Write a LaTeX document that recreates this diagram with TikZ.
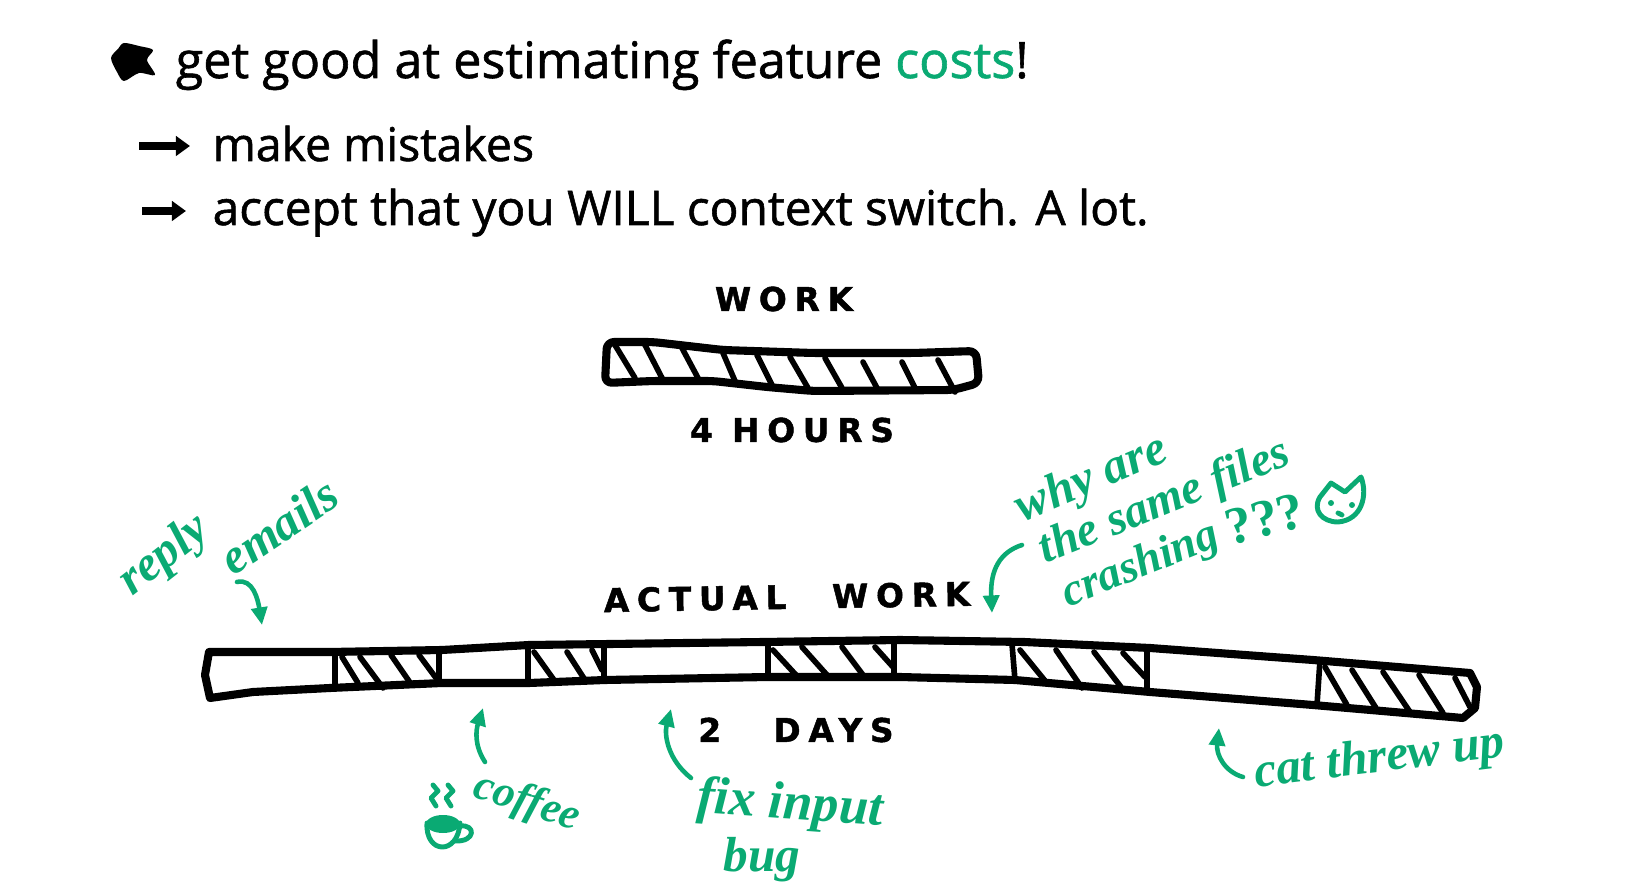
\documentclass[tikz,border=0pt]{standalone}
\usepackage{xcolor}
\usepackage{fontspec}
\usepackage{tikz}
\usetikzlibrary{arrows.meta}
\setmainfont[RawFeature={embolden=1.2}]{Open Sans}
\newfontfamily\capsfont[LetterSpace=24,RawFeature={embolden=1.5}]{DejaVu Sans}
\newfontfamily\notefont{Liberation Serif}
\definecolor{notegreen}{RGB}{10,170,115}

\tikzset{
  headline/.style={anchor=base west,inner sep=0pt,font=\fontsize{14.3}{17}\selectfont},
  subline/.style={anchor=base west,inner sep=0pt,font=\fontsize{13.6}{16}\selectfont},
  capslabel/.style={inner sep=0pt,font=\capsfont\bfseries\fontsize{9.3}{11}\selectfont},
  note/.style={inner sep=0pt,text=notegreen,font=\notefont\bfseries\itshape\fontsize{14}{16}\selectfont},
  barline/.style={draw=black,line width=2.3pt,line join=round},
  hatchline/.style={draw=black,line width=1.6pt,line cap=round},
  bulletarrow/.style={draw=black,line width=2.1pt,-{Triangle[length=4pt,width=5.5pt]}},
  notearrow/.style={draw=notegreen,line width=1.3pt,line cap=round,-{Triangle[length=5pt,width=4.5pt]}},
  sketch/.style={draw=notegreen,line width=1.4pt,line cap=round,line join=round}
}

\begin{document}
\begin{tikzpicture}[x=0.01cm,y=-0.01cm]
\useasboundingbox (0,0) rectangle (1635,888);
% Draw the blob bullet
\fill[black] plot[smooth cycle] coordinates {(124,43) (139,46) (153,50) (147,60) (155,75) (139,73) (124,81) (117,72) (111,58) (118,49)};
% Headline and bullet lines
\node[headline] (title) at (175,78) {get good at estimating feature \textcolor{notegreen}{costs}!};
\node[subline,font=\fontsize{13.2}{16}\selectfont] (mistakes) at (212,161) {make mistakes};
\node[subline] (context) at (212,225) {accept that you WILL context switch. A lot.};
\coordinate (mistakestail) at (139,146);
\coordinate (contexttail) at (142,211);
\draw[bulletarrow,shorten >=0.22cm] (mistakestail) -- (mistakestail -| mistakes.west);
\draw[bulletarrow,shorten >=0.26cm] (contexttail) -- (contexttail -| context.west);
% Draw the short bar
\node[capslabel] (worklabel) at (784,299) {WORK};
\draw[barline,rounded corners=2pt] (607,342) -- (653,342) -- (723,350) -- (813,353) -- (913,353) -- (976,351) -- (979,383) -- (953,390) -- (813,391) -- (767,387) -- (713,381) -- (653,381) -- (605,383) -- cycle;
\foreach \xa/\ya/\xb/\yb in {615/345/635/378,645/345/662/378,682/348/698/378,723/353/735/381,757/355/772/385,790/357/808/388,825/358/842/388,863/362/877/388,902/362/915/388,938/360/955/392}
  \draw[hatchline] (\xa,\ya) -- (\xb,\yb);
\node[capslabel] (hourslabel) at (792,430) {4 HOURS};
% Draw the long bar
\node[capslabel,rotate=1] (actuallabel) at (787,597) {ACTUAL\hspace{1.4em}WORK};
\draw[barline] (209,652) -- (330,652) -- (442,650) -- (529,645) -- (610,644) -- (763,642) -- (900,640) -- (1024,642) -- (1150,648) -- (1313,660) -- (1470,673) -- (1477,687) -- (1475,708) -- (1463,718) -- (1313,705) -- (1150,692) -- (1015,680) -- (900,677) -- (768,677) -- (605,680) -- (529,683) -- (442,683) -- (330,688) -- (253,692) -- (210,698) -- (205,675) -- cycle;
% Dividers of the worked parts
\foreach \xa/\ya/\xb/\yb in {335/654/335/686,439/650/439/684,528/647/528/683,604/645/604/680,768/643/768/677,894/642/894/677,1012/644/1015/680,1147/649/1147/692,1320/660/1317/705}
  \draw[hatchline] (\xa,\ya) -- (\xb,\yb);
% Hatching of the worked parts
\foreach \xa/\ya/\xb/\yb in {342/657/358/683,360/657/383/688,391/655/411/684,419/655/439/682,534/652/554/680,567/652/585/680,592/650/602/670,773/650/796/675,802/647/827/675,842/647/863/675,875/647/893/667,1020/650/1046/682,1056/650/1082/688,1094/652/1121/687,1123/653/1145/677,1325/667/1347/705,1352/670/1376/708,1383/672/1410/712,1419/675/1443/713,1455/678/1470/707}
  \draw[hatchline] (\xa,\ya) -- (\xb,\yb);
\node[capslabel] (dayslabel) at (796,730) {2\hspace{1.6em}DAYS};
% Green notes
\node[note,rotate=38] (replynote) at (165,556) {reply};
\node[note,rotate=34] (emailsnote) at (279,526) {emails};
\node[note,rotate=-18,font=\notefont\bfseries\itshape\fontsize{12.5}{15}\selectfont] (coffeenote) at (527,803) {coffee};
\node[note,rotate=-4,font=\notefont\bfseries\itshape\fontsize{15}{17}\selectfont] (fixnote) at (790,806) {fix input};
\node[note] (bugnote) at (762,860) {bug};
\node[note,rotate=23] (whynote) at (1092,480) {why are};
\node[note,rotate=22,font=\notefont\bfseries\itshape\fontsize{13.5}{16}\selectfont] (samenote) at (1165,503) {the same files};
\node[note,rotate=22,font=\notefont\bfseries\itshape\fontsize{13}{15}\selectfont] (crashnote) at (1141,566) {crashing};
\node[note,rotate=14,font=\notefont\bfseries\fontsize{15}{17}\selectfont] (marksnote) at (1265,519) {???};
\node[note,rotate=7] (catnote) at (1380,760) {cat threw up};
% Arrows from the notes to the bar
\coordinate (replytip) at (262,625);
\coordinate (coffeetip) at (483,708);
\coordinate (fixtip) at (671,709);
\coordinate (crashtip) at (992,613);
\coordinate (cattip) at (1219,728);
\draw[notearrow] ([shift={(-42,56)}]emailsnote.center) .. controls (253,578) and (258,600) .. (replytip);
\draw[notearrow] ([shift={(-42,-41)}]coffeenote.center) .. controls (474,745) and (476,730) .. (coffeetip);
\draw[notearrow] ([shift={(-99,-28)}]fixnote.center) .. controls (668,760) and (664,735) .. (fixtip);
\draw[notearrow] ([shift={(-143,42)}]samenote.center) .. controls (1000,552) and (990,570) .. (crashtip);
\draw[notearrow] ([shift={(-137,17)}]catnote.center) .. controls (1225,772) and (1216,755) .. (cattip);
% Coffee cup with steam
\fill[notegreen] (443,824) ellipse (17 and 9);
\draw[sketch] (427,823) .. controls (425,854) and (458,856) .. (460,823);
\draw[sketch] (460,826) .. controls (476,824) and (476,842) .. (455,841);
\draw[sketch] (433,785) -- (438,791) -- (431,798) -- (436,806);
\draw[sketch] (448,785) -- (453,791) -- (446,798) -- (451,806);
% Cat face
\draw[sketch] (1320,497) -- (1331,483) -- (1345,492) -- (1361,477) .. controls (1368,495) and (1362,520) .. (1338,522) .. controls (1322,522) and (1312,510) .. (1320,497);
\fill[notegreen] (1331,503) circle (3);
\fill[notegreen] (1352,505) circle (3);
\draw[sketch] (1338,513) -- (1342,515);
\end{tikzpicture}
\end{document}
